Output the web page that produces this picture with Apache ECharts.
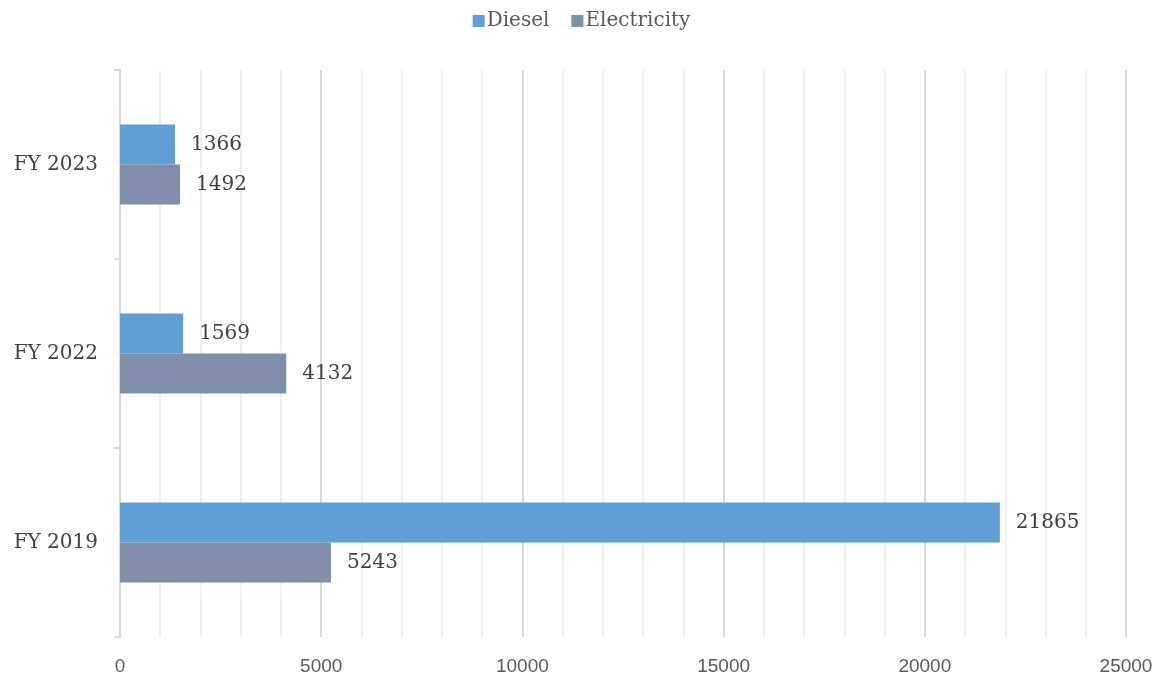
<!DOCTYPE html>
<html>
<head>
<meta charset="utf-8">
<script src="https://cdn.jsdelivr.net/npm/echarts@6/dist/echarts.min.js"></script>
<style>
  html, body { margin: 0; padding: 0; background: #fff; }
  #chart { width: 1163px; height: 681px; }
</style>
</head>
<body>
<div id="chart"></div>
<script>
const categories = ['FY 2019', 'FY 2022', 'FY 2023'];
const diesel = [21865, 1569, 1366];
const electricity = [5243, 4132, 1492];
const xTicks = [0, 5000, 10000, 15000, 20000, 25000];

const serif = '"DejaVu Serif", serif';
const sans = '"Liberation Sans", Arial, sans-serif';

const chart = echarts.init(document.getElementById('chart'), null, { renderer: 'canvas' });

const labelStyle = {
    show: true,
    position: 'right',
    distance: 16,
    color: '#404040',
    fontFamily: serif,
    fontSize: 20
};

const option = {
    animation: false,
    legend: {
        top: 6,
        left: 'center',
        itemWidth: 12,
        itemHeight: 12,
        itemGap: 22,
        icon: 'rect',
        textStyle: { color: '#595959', fontFamily: serif, fontSize: 20, padding: [0, 0, 0, -3] },
        data: ['Diesel', 'Electricity']
    },
    grid: {
        left: 120,
        right: 37,
        top: 70,
        bottom: 44,
        containLabel: false
    },
    xAxis: {
        type: 'value',
        min: xTicks[0],
        max: xTicks[xTicks.length - 1],
        interval: 5000,
        axisLine: { show: false },
        axisTick: { show: false },
        axisLabel: { color: '#595959', fontFamily: sans, fontSize: 19, margin: 20, formatter: v => String(v) },
        splitLine: { show: true, lineStyle: { color: '#d9d9d9', width: 2 } },
        minorTick: { show: false, splitNumber: 5 },
        minorSplitLine: { show: true, lineStyle: { color: '#f0f0f0', width: 2 } }
    },
    yAxis: {
        type: 'category',
        data: categories,
        axisLine: { show: true, lineStyle: { color: '#d9d9d9', width: 2 } },
        axisTick: { show: true, length: 6, lineStyle: { color: '#d9d9d9', width: 2 } },
        axisLabel: { color: '#404040', fontFamily: serif, fontSize: 20, margin: 22 },
        splitLine: { show: false }
    },
    series: [
        {
            name: 'Diesel',
            type: 'bar',
            data: diesel,
            barWidth: 40,
            barGap: '0%',
            itemStyle: { color: '#5f9fd4' },
            label: labelStyle
        },
        {
            name: 'Electricity',
            type: 'bar',
            data: electricity,
            barWidth: 40,
            barGap: '0%',
            itemStyle: { color: '#7f8fa9' },
            label: labelStyle
        }
    ]
};

chart.setOption(option);
</script>
</body>
</html>
